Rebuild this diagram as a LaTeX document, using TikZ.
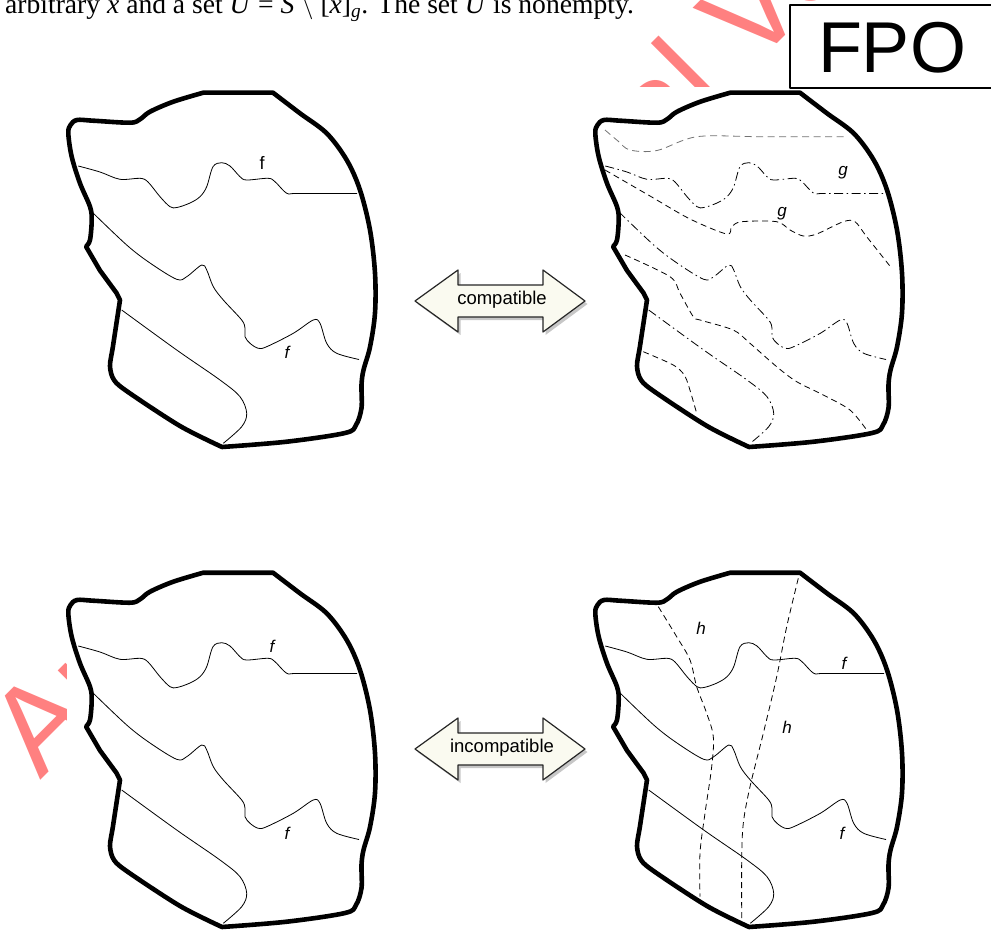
\documentclass[tikz,border=0pt]{standalone}
\usepackage{fontspec}
\setmainfont{Liberation Serif}
\setsansfont{Liberation Sans}
\definecolor{wmpink}{RGB}{255,128,128}
\definecolor{arrowfill}{RGB}{250,250,240}
\newcommand\blobpath{(86,246.5) -- plot[smooth, tension=0.55] coordinates {(86,246.5) (90,240) (91.7,220) (90,206.7) (80,183.3) (71.7,156.7) (68.3,133.3) (70.5,125) (77,120) (93.3,120.7) (130,122.7) (140,119.3) (150,111.7) (173.3,101.7) (203.3,92.7)} -- (273,92.7) -- plot[smooth, tension=0.55] coordinates {(273,92.7) (300,113.3) (326.7,133.3) (346.7,160) (360,190) (370,230) (375,273) (375,313) (370,347) (363.5,370) (361.5,385) (361.5,408) (356,425) (345,433) (286.7,441.7) (222,447)} -- plot[smooth, tension=0.5] coordinates {(222,447) (180,426) (128,392) (114,380) (110,366) (113,346) (120,300)} -- (116.5,293) -- (100,270.5) -- cycle}
\newcommand\fone{plot[smooth, tension=0.55] coordinates {(78.3,166) (100,172) (120,179.3) (140,178.3) (148,182) (160,196.7) (170,206.7) (177,207.5) (190,203) (200,196.7) (206.7,186.7) (213,166.7) (221.7,162.7) (230,166) (240,176.7) (246.7,180) (268,178.3) (275,181.7) (286.7,193.3) (296.7,193.5) (357,193.5)}}
\newcommand\ftwo{plot[smooth, tension=0.55] coordinates {(91.7,211.7) (126.7,245) (150,263) (176.7,279.3) (186.7,276.7) (201.7,265) (206.7,270) (213.3,286.7) (223.3,300) (241.7,320) (245,328.3) (245,336.7) (250,343.3) (258.3,348.3) (266.7,346.7) (293.3,333.3) (313.3,320) (320,323.3) (326.7,343.3) (336.7,353.3) (359,359.5)}}
\newcommand\fthree{plot[smooth, tension=0.55] coordinates {(121.7,310) (176.7,350) (220,380) (240,396.7) (246.7,413.3) (241.7,426.7) (223.3,443.3)}}
\begin{document}
\begin{tikzpicture}[x=1pt,y=-1pt, line join=round,
  border/.style={line width=4.6pt, line cap=round},
  fcurve/.style={line width=0.8pt},
  dsh/.style={line width=0.8pt, dash pattern=on 6pt off 4pt},
  dshdot/.style={line width=0.8pt, dash pattern=on 9pt off 3.5pt on 1.5pt off 3.5pt},
  lbl/.style={font=\sffamily\itshape\fontsize{17}{17}\selectfont, inner sep=0pt},
  ulbl/.style={font=\sffamily\fontsize{18}{18}\selectfont, inner sep=0pt},
  arrowtxt/.style={font=\sffamily\fontsize{18.5}{18.5}\selectfont, inner sep=0pt},
  pics/dbl/.style={code={
    \fill[black, opacity=0.22] (-85+2.5,0+3) -- (-42+2.5,-31+3) -- (-42+2.5,-16+3) -- (43+2.5,-16+3) -- (43+2.5,-31+3) -- (85+2.5,0+3) -- (43+2.5,31+3) -- (43+2.5,16+3) -- (-42+2.5,16+3) -- (-42+2.5,31+3) -- cycle;
    \draw[line width=1.2pt, draw=black!85, fill=arrowfill] (-85,0) -- (-42,-31) -- (-42,-16) -- (43,-16) -- (43,-31) -- (85,0) -- (43,31) -- (43,16) -- (-42,16) -- (-42,31) -- cycle;
  }}
]
\useasboundingbox (0,0) rectangle (991,934);
% watermark, mostly hidden by the figure's white ground
\node[font=\sffamily\fontsize{123}{123}\selectfont, text=wmpink, rotate=45, anchor=base west, inner sep=0pt] (wm) at (40,781) {Author's Personal Version};
\fill[white] (67,87) rectangle (991,934);
% top text line
\node[anchor=base west, inner sep=0pt, font=\fontsize{27.6}{27.6}\selectfont] (toptext) at (5,14) {arbitrary \textit{x} and a set \textit{U} = \textit{S} $\setminus$ [\textit{x}]\textsubscript{\textit{g}}. The set \textit{U} is nonempty.};
% FPO
\draw[line width=1.6pt, fill=white] (790,5) rectangle (996,88);
\node[anchor=base, inner sep=0pt, font=\sffamily\fontsize{72}{80}\selectfont] (fpo) at (892,73) {FPO};

% top-left panel
\draw[border] \blobpath;
\draw[fcurve] \fone;
\draw[fcurve] \ftwo;
\draw[fcurve] \fthree;
\node[ulbl] (tlf1) at (262,163) {f};
\node[lbl] (tlf2) at (287,352) {f};

% top-right panel
\begin{scope}[shift={(527,0)}]
\draw[border] \blobpath;
\draw[dshdot] \fone;
\draw[dshdot] \ftwo;
\draw[dshdot] \fthree;
\end{scope}
\draw[dsh, draw=black!55, dash pattern=on 7pt off 4.5pt] plot[smooth, tension=0.55] coordinates {(605,130) (618,141) (630,150) (657,150.5) (697,136.7) (760,136.7) (847,136.7)};
\draw[dsh] plot[smooth, tension=0.5] coordinates {(605,170) (650,196) (690,219) (726.7,234) (731.7,226.7) (741.7,221.7) (776.7,221.7) (790,230) (803.3,236) (816.7,234) (843.3,221.7) (855,221.7) (866.7,236.7) (891.7,268.3)};
\draw[dsh] plot[smooth, tension=0.5] coordinates {(625,255) (670,276.7) (680,293.3) (693.3,316.7) (700,320) (733.3,330) (750,343.3) (776.7,366.7) (796.7,381.7) (823.3,395) (850,410) (866.7,430)};
\draw[dsh] plot[smooth, tension=0.5] coordinates {(643.3,351.7) (670,363.3) (680,370) (686.7,380) (696.7,413.3)};
\node[lbl] (trg1) at (843,173) {g};
\node[lbl] (trg2) at (782,214) {g};

% arrows
\pic (arrA) at (500,301) {dbl};
\node[arrowtxt] (compat) at (502,300) {compatible};
\pic (arrB) at (500,749) {dbl};
\node[arrowtxt] (incompat) at (502,748) {incompatible};

% bottom-left panel
\begin{scope}[shift={(0,480)}]
\draw[border] \blobpath;
\draw[fcurve] \fone;
\draw[fcurve] \ftwo;
\draw[fcurve] \fthree;
\end{scope}
\node[lbl] (blf1) at (272,646) {f};
\node[lbl] (blf2) at (287,833) {f};

% bottom-right panel
\begin{scope}[shift={(527,480)}]
\draw[border] \blobpath;
\draw[fcurve] \fone;
\draw[fcurve] \ftwo;
\draw[fcurve] \fthree;
\end{scope}
\draw[dsh] plot[smooth, tension=0.55] coordinates {(658.3,606.7) (676.7,636.7) (690,660) (696.7,686.7) (706.7,713.3) (713.3,736.7) (711.7,766.7) (705,813.3) (700,853.3) (700,896.7)};
\draw[dsh] plot[smooth, tension=0.55] coordinates {(798.3,578.3) (786.7,626.7) (776.7,676.7) (763.3,733.3) (750,786.7) (743.3,823.3) (741.7,860) (741.7,918.3)};
\node[lbl] (brh1) at (701,628) {h};
\node[lbl] (brh2) at (787,727) {h};
\node[lbl] (brf1) at (844,663) {f};
\node[lbl] (brf2) at (842,833) {f};
\end{tikzpicture}
\end{document}
